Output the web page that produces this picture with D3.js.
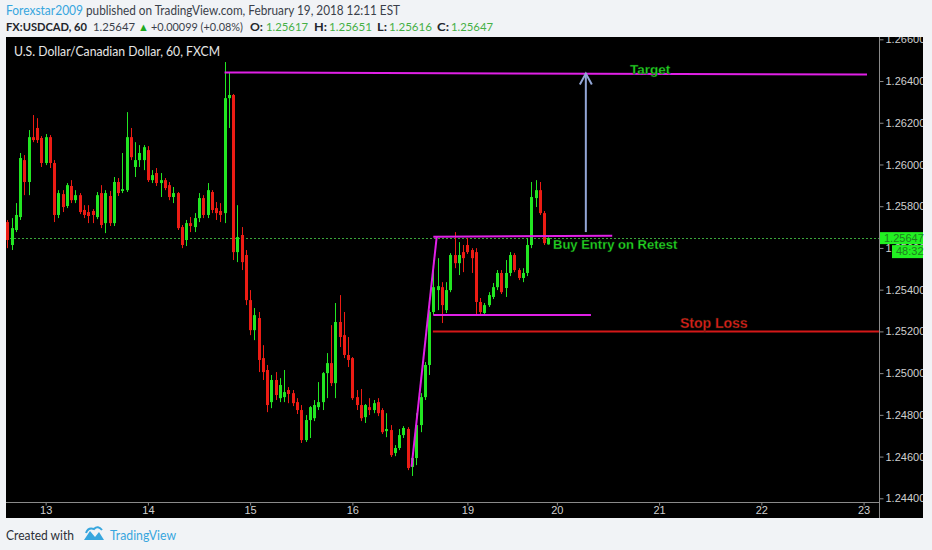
<!DOCTYPE html>
<html><head><meta charset="utf-8">
<script src="https://cdn.jsdelivr.net/npm/d3@7/dist/d3.min.js"></script>
<style>
html,body{margin:0;padding:0;background:#f1f3f6;}
svg{display:block;}
</style></head><body>
<svg id="c" width="932" height="550"></svg>
<script>
// Hourly candles USDCAD [open, high, low, close]
const candles = [
[1.25724,1.25734,1.25599,1.25638],[1.25614,1.25743,1.25590,1.25695],[1.25686,1.25815,1.25676,1.25758],[1.25748,1.26055,1.25734,1.26031],
[1.26021,1.26045,1.25853,1.25916],[1.25916,1.26165,1.25853,1.26131],[1.26131,1.26237,1.26107,1.26117],[1.26175,1.26222,1.26103,1.26117],
[1.26127,1.26136,1.25988,1.26007],[1.26007,1.26146,1.25997,1.26131],[1.26131,1.26141,1.25983,1.26007],[1.26007,1.26021,1.25724,1.25758],
[1.25758,1.25877,1.25743,1.25863],[1.25858,1.25877,1.25772,1.25796],[1.25801,1.25911,1.25791,1.25901],[1.25897,1.25925,1.25815,1.25829],
[1.25829,1.25877,1.25815,1.25853],[1.25853,1.25863,1.25762,1.25772],[1.25782,1.25805,1.25743,1.25758],[1.25772,1.25805,1.25719,1.25753],
[1.25777,1.25786,1.25719,1.25758],[1.25748,1.25868,1.25738,1.25853],[1.25863,1.25901,1.25695,1.25710],[1.25719,1.25877,1.25671,1.25863],
[1.25849,1.25873,1.25705,1.25719],[1.25719,1.25940,1.25705,1.25916],[1.25916,1.25935,1.25849,1.25863],[1.25873,1.26055,1.25863,1.25882],
[1.25877,1.26251,1.25868,1.26131],[1.26131,1.26175,1.26021,1.26035],[1.25988,1.26107,1.25940,1.26021],[1.26021,1.26093,1.25988,1.26055],
[1.26021,1.26093,1.25973,1.26083],[1.26069,1.26088,1.25916,1.25925],[1.25925,1.25973,1.25911,1.25949],[1.25959,1.25983,1.25897,1.25911],
[1.25911,1.25959,1.25844,1.25925],[1.25925,1.25935,1.25877,1.25887],[1.25901,1.25916,1.25829,1.25844],[1.25844,1.25892,1.25815,1.25863],
[1.25863,1.25868,1.25686,1.25695],[1.25700,1.25710,1.25599,1.25614],[1.25638,1.25734,1.25609,1.25719],[1.25719,1.25748,1.25676,1.25705],
[1.25700,1.25767,1.25676,1.25743],[1.25743,1.25863,1.25724,1.25839],[1.25839,1.25853,1.25743,1.25758],[1.25758,1.25911,1.25743,1.25877],
[1.25868,1.25877,1.25767,1.25782],[1.25791,1.25820,1.25734,1.25767],[1.25777,1.25815,1.25724,1.25758],[1.25767,1.26491,1.25719,1.26318],
[1.26318,1.26443,1.26175,1.26333],[1.26333,1.26338,1.25542,1.25580],[1.25580,1.25805,1.25532,1.25652],[1.25662,1.25700,1.25494,1.25532],
[1.25566,1.25590,1.25326,1.25350],[1.25350,1.25398,1.25182,1.25206],[1.25206,1.25312,1.25158,1.25278],[1.25264,1.25293,1.25005,1.25063],
[1.25072,1.25134,1.24967,1.25005],[1.25015,1.25039,1.24813,1.24847],[1.24861,1.24991,1.24832,1.24967],[1.24967,1.25005,1.24871,1.24895],
[1.24880,1.24976,1.24861,1.24943],[1.24885,1.25015,1.24861,1.24909],[1.24919,1.24933,1.24856,1.24900],[1.24904,1.24919,1.24842,1.24856],
[1.24861,1.24880,1.24804,1.24823],[1.24823,1.24847,1.24665,1.24679],[1.24679,1.24799,1.24670,1.24775],[1.24775,1.24842,1.24689,1.24837],
[1.24784,1.24871,1.24770,1.24847],[1.24837,1.24957,1.24823,1.24861],[1.24861,1.25005,1.24823,1.25000],[1.25000,1.25096,1.24880,1.25048],
[1.25048,1.25230,1.24938,1.24952],[1.24952,1.25336,1.24880,1.25245],[1.25245,1.25374,1.25125,1.25173],[1.25182,1.25293,1.25072,1.25087],
[1.25087,1.25173,1.25029,1.25063],[1.25072,1.25077,1.24871,1.24880],[1.24885,1.24919,1.24823,1.24847],[1.24847,1.24924,1.24770,1.24784],
[1.24789,1.24852,1.24761,1.24847],[1.24837,1.24880,1.24799,1.24823],[1.24823,1.24871,1.24808,1.24856],[1.24861,1.24880,1.24794,1.24808],
[1.24823,1.24832,1.24708,1.24717],[1.24722,1.24808,1.24693,1.24732],[1.24727,1.24751,1.24598,1.24607],[1.24617,1.24655,1.24602,1.24641],
[1.24641,1.24732,1.24631,1.24703],[1.24703,1.24746,1.24689,1.24737],[1.24732,1.24741,1.24535,1.24545],[1.24550,1.24607,1.24507,1.24593],
[1.24593,1.24808,1.24559,1.24751],[1.24751,1.24904,1.24717,1.24885],[1.24885,1.25053,1.24871,1.25039],[1.25039,1.25302,1.24991,1.25293],
[1.25293,1.25542,1.25278,1.25412],[1.25398,1.25551,1.25302,1.25417],[1.25412,1.25436,1.25240,1.25326],[1.25302,1.25436,1.25288,1.25398],
[1.25398,1.25575,1.25388,1.25566],[1.25566,1.25676,1.25503,1.25527],[1.25527,1.25628,1.25470,1.25566],[1.25580,1.25614,1.25484,1.25551],
[1.25614,1.25647,1.25571,1.25580],[1.25590,1.25599,1.25480,1.25551],[1.25580,1.25599,1.25278,1.25341],[1.25341,1.25360,1.25278,1.25293],
[1.25288,1.25336,1.25278,1.25326],[1.25326,1.25388,1.25317,1.25374],[1.25365,1.25432,1.25355,1.25412],[1.25412,1.25494,1.25398,1.25480],
[1.25480,1.25494,1.25379,1.25388],[1.25408,1.25542,1.25365,1.25480],[1.25480,1.25580,1.25465,1.25566],[1.25566,1.25575,1.25484,1.25494],
[1.25494,1.25503,1.25446,1.25456],[1.25456,1.25503,1.25436,1.25480],[1.25480,1.25647,1.25465,1.25614],[1.25614,1.25916,1.25599,1.25844],
[1.25839,1.25925,1.25796,1.25877],[1.25877,1.25916,1.25758,1.25767],[1.25767,1.25777,1.25614,1.25623],[1.25617,1.25651,1.25616,1.25647]
];
const yTicks = [1.244,1.246,1.248,1.250,1.252,1.254,1.256,1.258,1.260,1.262,1.264,1.266];
const dayIndex = [9,33,57,81,108,129,153,177,201];
const dayLabels = ["13","14","15","16","19","20","21","22","23"];
const lastPrice = 1.25647;
const countdown = "48:32";
// drawings: [barIndex, price]
const targetLine = [[51,1.26441],[201.8,1.26431]];
const rangeTop = [[100,1.25654],[142,1.25658]];
const rangeBottom = [[100,1.25278],[137,1.25278]];
const breakoutLine = [[94.9,1.24552],[100.8,1.25654]];
const stopLine = [[99.9,1.25200],[204.6,1.25200]];
const arrowLine = [[135.8,1.25676],[135.8,1.26436]];
const noteText = ["Target","Buy Entry on Retest","Stop Loss"];
const notePos = [[150.9,1.26458],[128.1,1.25619],[157.9,1.25240]];

const UP = "#22e622", DOWN = "#ec1c14";
const svg = d3.select("#c");
const L = 6, R = 923, PR = 879, T = 37, PB = 502, B = 518;

const x = d3.scaleLinear().domain([0, 201]).range([7.3, 863.6]);
const y = d3.scaleLinear().domain([1.244, 1.266]).range([498.3, 39.3]);

// header
svg.append("text").attr("x", 6).attr("y", 15).style("font", "13px Lato").attr("fill", "#37a6de")
  .attr("textLength", 77).attr("lengthAdjust", "spacingAndGlyphs").text("Forexstar2009");
svg.append("text").attr("x", 86).attr("y", 15).style("font", "13px Lato").attr("fill", "#3a3f4a")
  .attr("textLength", 314).attr("lengthAdjust", "spacingAndGlyphs").text("published on TradingView.com, February 19, 2018 12:11 EST");
const seg = [
  ["FX:USDCAD, 60", 6, 81, "#22252b", "bold"], ["1.25647", 93, 42, "#3a3f4a", "normal"], ["▲", 138, 0, "#1faa1f", "normal"],
  ["+0.00099 (+0.08%)", 151, 92, "#3a3f4a", "normal"], ["O:", 250, 13, "#22252b", "bold"], ["1.25617", 266, 42, "#45b045", "normal"],
  ["H:", 314, 13, "#22252b", "bold"], ["1.25651", 329, 43, "#45b045", "normal"], ["L:", 377, 10, "#22252b", "bold"],
  ["1.25616", 389, 43, "#45b045", "normal"], ["C:", 437, 12, "#22252b", "bold"], ["1.25647", 451, 42, "#45b045", "normal"]];
seg.forEach(s => {
  const t = svg.append("text").attr("x", s[1]).attr("y", 31).style("font", (s[4] === "bold" ? "bold " : "") + (s[0] === "▲" ? "11px" : "11.5px") + " Lato")
    .attr("fill", s[3]).text(s[0]);
  if (s[2]) t.attr("textLength", s[2]).attr("lengthAdjust", "spacingAndGlyphs");
});

// chart panel
svg.append("rect").attr("x", L).attr("y", T).attr("width", R - L).attr("height", B - T).attr("fill", "#000");
svg.append("clipPath").attr("id", "pc").append("rect").attr("x", L).attr("y", T).attr("width", PR - L).attr("height", PB - T);
const plot = svg.append("g").attr("clip-path", "url(#pc)");

plot.append("text").attr("x", 14).attr("y", 56).style("font", "12.5px Lato").attr("fill", "#e6e6e6")
  .attr("textLength", 206).attr("lengthAdjust", "spacingAndGlyphs")
  .text("U.S. Dollar/Canadian Dollar, 60, FXCM");

// last price dotted line
plot.append("line").attr("x1", L).attr("x2", PR).attr("y1", Math.round(y(lastPrice)) + 0.5).attr("y2", Math.round(y(lastPrice)) + 0.5)
  .attr("stroke", "#3aa63a").attr("stroke-dasharray", "2,2");

// candles
const cg = plot.append("g");
candles.forEach((d, i) => {
  const [o, h, l, c] = d;
  const col = c >= o ? UP : DOWN;
  const cx = Math.round(x(i));
  cg.append("line").attr("x1", cx + 0.5).attr("x2", cx + 0.5).attr("y1", y(h)).attr("y2", y(l)).attr("stroke", col);
  const top = y(Math.max(o, c)), bot = y(Math.min(o, c));
  cg.append("rect").attr("x", cx - 1).attr("width", 3).attr("y", top).attr("height", Math.max(1, bot - top)).attr("fill", col);
});

// drawings
const line = d3.line().x(d => x(d[0])).y(d => y(d[1]));
const MAG = "#e020e6";
[targetLine, rangeTop, rangeBottom, breakoutLine].forEach(p =>
  plot.append("path").attr("d", line(p)).attr("stroke", MAG).attr("stroke-width", 2).attr("fill", "none"));
plot.append("path").attr("d", line(stopLine)).attr("stroke", "#d41818").attr("stroke-width", 2).attr("fill", "none");
const ax = x(arrowLine[0][0]), ay = y(arrowLine[1][1]);
plot.append("path").attr("d", line(arrowLine)).attr("stroke", "#93a6d6").attr("stroke-width", 2).attr("fill", "none");
plot.append("path").attr("d", `M${ax - 6},${ay + 11}L${ax},${ay}L${ax + 6},${ay + 11}`).attr("stroke", "#93a6d6").attr("stroke-width", 2).attr("fill", "none");

const noteStyle = [["middle", "13.5px", "#22d822"], ["start", "13px", "#22d822"], ["start", "14px", "#e01a1a"]];
noteText.forEach((t, k) => {
  plot.append("text").attr("x", x(notePos[k][0])).attr("y", y(notePos[k][1])).attr("dy", "0.35em")
    .attr("text-anchor", noteStyle[k][0]).style("font", `bold ${noteStyle[k][1]} 'Liberation Sans'`)
    .attr("fill", noteStyle[k][2]).attr("stroke", "#0a2a0a").attr("stroke-width", 0.3).text(t);
});

// axes
const AX = "#8a8a8a";
svg.append("line").attr("x1", PR + 0.5).attr("x2", PR + 0.5).attr("y1", T).attr("y2", B).attr("stroke", AX);
svg.append("line").attr("x1", L).attr("x2", PR).attr("y1", PB + 0.5).attr("y2", PB + 0.5).attr("stroke", AX);

svg.append("clipPath").attr("id", "yc").append("rect").attr("x", PR).attr("y", T).attr("width", R - PR).attr("height", B - T);
const yAxis = d3.axisRight(y).tickValues(yTicks).tickFormat(d3.format(".5f")).tickSize(4).tickPadding(2);
const ya = svg.append("g").attr("clip-path", "url(#yc)").append("g").attr("transform", `translate(${PR + 0.5},0)`).call(yAxis);
ya.select(".domain").remove();
ya.selectAll("line").attr("stroke", AX);
ya.selectAll("text").attr("fill", "#cfcfcf").style("font", "11px 'Liberation Sans'");

const xAxis = d3.axisBottom(x).tickValues(dayIndex).tickFormat((d, k) => dayLabels[k]).tickSize(3).tickPadding(1);
const xa = svg.append("g").attr("transform", `translate(0,${PB + 0.5})`).call(xAxis);
xa.select(".domain").remove();
xa.selectAll("line").attr("stroke", AX);
xa.selectAll("text").attr("fill", "#cfcfcf").style("font", "11px 'Liberation Sans'");

// price labels (drawn over the 1.25600 tick label, as in the original)
const py = y(lastPrice);
svg.append("rect").attr("x", PR + 1).attr("y", py - 6).attr("width", R - PR - 1).attr("height", 12).attr("fill", "#22f022");
svg.append("text").attr("x", PR + 5).attr("y", py).attr("dy", "0.35em").style("font", "11px 'Liberation Sans'").attr("fill", "#1f7f1f").text(d3.format(".5f")(lastPrice));
svg.append("rect").attr("x", 892).attr("y", py + 7).attr("width", R - 892).attr("height", 13).attr("fill", "#22f022");
svg.append("text").attr("x", 896).attr("y", py + 13.5).attr("dy", "0.35em").style("font", "11px 'Liberation Sans'").attr("fill", "#1f7f1f").text(countdown);

// footer
svg.append("text").attr("x", 6).attr("y", 540).style("font", "13px Lato").attr("fill", "#2c2f36")
  .attr("textLength", 68).attr("lengthAdjust", "spacingAndGlyphs").text("Created with");
svg.append("path").attr("d", "M84,540 L90,531 L95,537 L99,532 L104,540 Z").attr("fill", "#37a6de");
svg.append("path").attr("d", "M86,533 Q88,527 94,529 Q98,525 102,530").attr("stroke", "#37a6de").attr("stroke-width", 2).attr("fill", "none");
svg.append("text").attr("x", 110).attr("y", 540).style("font", "13px Lato").attr("fill", "#37a6de")
  .attr("textLength", 66).attr("lengthAdjust", "spacingAndGlyphs").text("TradingView");
</script>
</body></html>
